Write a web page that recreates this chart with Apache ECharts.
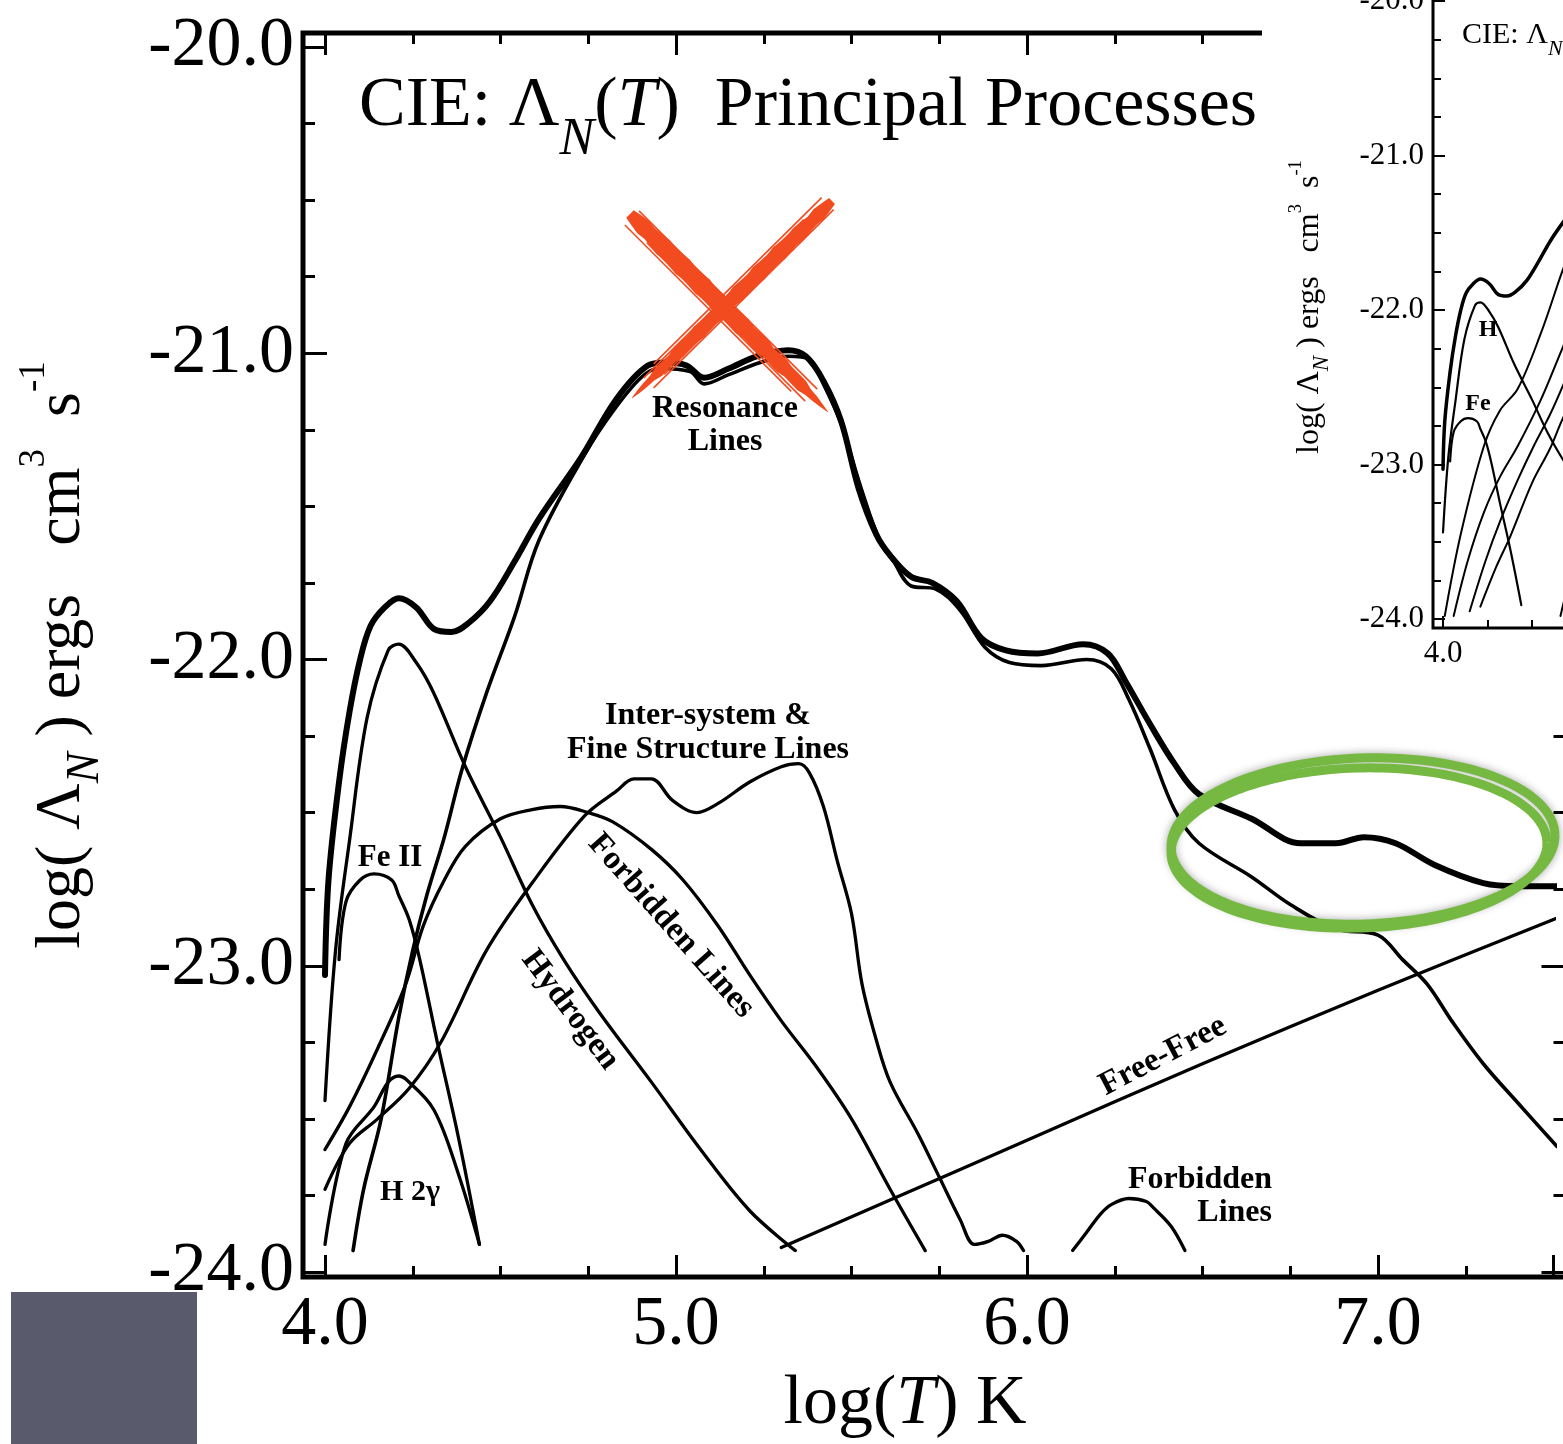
<!DOCTYPE html>
<html><head><meta charset="utf-8">
<script src="https://cdn.jsdelivr.net/npm/echarts@6/dist/echarts.min.js"></script>
<style>html,body{margin:0;padding:0;background:#fff}#c{width:1563px;height:1444px}</style>
</head><body><div id="c"></div><script>
// ---- data: [log T, log Lambda_N] ----
const totalCurve = [[4.00,-23.03],[4.01,-22.72],[4.04,-22.40],[4.07,-22.17],[4.10,-22.00],[4.13,-21.89],[4.17,-21.83],[4.21,-21.80],[4.26,-21.83],[4.31,-21.90],[4.36,-21.91],[4.41,-21.88],[4.47,-21.81],[4.54,-21.68],[4.61,-21.54],[4.73,-21.34],[4.83,-21.15],[4.92,-21.04],[4.97,-21.03],[5.03,-21.04],[5.08,-21.08],[5.15,-21.05],[5.23,-21.01],[5.32,-20.99],[5.37,-21.01],[5.42,-21.09],[5.47,-21.22],[5.52,-21.44],[5.57,-21.59],[5.61,-21.66],[5.67,-21.73],[5.73,-21.75],[5.80,-21.81],[5.87,-21.93],[5.94,-21.97],[6.03,-21.98],[6.16,-21.95],[6.23,-21.98],[6.28,-22.07],[6.35,-22.21],[6.42,-22.34],[6.49,-22.44],[6.64,-22.52],[6.78,-22.60],[6.88,-22.60],[6.96,-22.58],[7.05,-22.60],[7.16,-22.67],[7.30,-22.73],[7.40,-22.74],[7.51,-22.74]];
const resonanceLines = [[4.08,-23.93],[4.11,-23.73],[4.16,-23.50],[4.21,-23.17],[4.25,-22.95],[4.29,-22.77],[4.34,-22.58],[4.39,-22.36],[4.46,-22.11],[4.54,-21.86],[4.61,-21.61],[4.74,-21.33],[4.82,-21.19],[4.90,-21.08],[4.95,-21.05],[5.04,-21.06],[5.08,-21.10],[5.15,-21.07],[5.24,-21.03],[5.32,-21.01],[5.38,-21.02],[5.42,-21.10],[5.47,-21.23],[5.53,-21.45],[5.58,-21.61],[5.62,-21.68],[5.67,-21.76],[5.74,-21.77],[5.81,-21.84],[5.88,-21.96],[5.95,-22.01],[6.04,-22.02],[6.17,-22.00],[6.24,-22.03],[6.29,-22.13],[6.35,-22.29],[6.42,-22.49],[6.49,-22.60],[6.64,-22.71],[6.75,-22.80],[6.88,-22.88],[7.00,-22.90],[7.07,-22.98],[7.14,-23.06],[7.21,-23.18],[7.30,-23.32],[7.40,-23.45],[7.51,-23.59]];
const hydrogen = [[4.00,-23.44],[4.03,-22.95],[4.07,-22.59],[4.12,-22.19],[4.18,-21.97],[4.21,-21.95],[4.26,-22.01],[4.31,-22.11],[4.40,-22.35],[4.50,-22.58],[4.59,-22.80],[4.68,-22.98],[4.78,-23.15],[4.93,-23.38],[5.07,-23.60],[5.21,-23.80],[5.34,-23.93]];
const ironII = [[4.04,-22.98],[4.06,-22.79],[4.10,-22.72],[4.14,-22.70],[4.19,-22.72],[4.21,-22.77],[4.24,-22.85],[4.27,-22.98],[4.32,-23.25],[4.38,-23.56],[4.44,-23.91]];
const hTwoPhoton = [[4.00,-23.91],[4.06,-23.58],[4.14,-23.46],[4.18,-23.38],[4.21,-23.36],[4.23,-23.37],[4.31,-23.47],[4.38,-23.68],[4.44,-23.91]];
const interSystem = [[4.00,-23.73],[4.07,-23.58],[4.15,-23.50],[4.24,-23.40],[4.33,-23.25],[4.46,-22.95],[4.59,-22.73],[4.74,-22.51],[4.83,-22.43],[4.88,-22.39],[4.93,-22.39],[4.99,-22.46],[5.06,-22.50],[5.12,-22.47],[5.21,-22.40],[5.30,-22.35],[5.35,-22.34],[5.38,-22.37],[5.42,-22.48],[5.46,-22.66],[5.50,-22.83],[5.53,-23.06],[5.57,-23.24],[5.61,-23.38],[5.69,-23.55],[5.75,-23.69],[5.81,-23.83],[5.85,-23.91],[5.89,-23.90],[5.93,-23.88],[5.97,-23.90],[5.99,-23.93]];
const forbiddenLines = [[4.00,-23.60],[4.07,-23.46],[4.15,-23.27],[4.23,-23.06],[4.28,-22.87],[4.34,-22.72],[4.40,-22.61],[4.50,-22.52],[4.59,-22.49],[4.67,-22.48],[4.75,-22.50],[4.82,-22.53],[4.93,-22.62],[5.02,-22.72],[5.12,-22.87],[5.21,-23.03],[5.30,-23.18],[5.40,-23.33],[5.50,-23.50],[5.61,-23.73],[5.71,-23.93]];
const freeFree = [[5.30,-23.92],[5.60,-23.77],[6.00,-23.57],[6.50,-23.32],[7.00,-23.08],[7.52,-22.84]];
const forbiddenHighT = [[6.13,-23.93],[6.17,-23.87],[6.21,-23.81],[6.24,-23.78],[6.29,-23.76],[6.34,-23.77],[6.36,-23.79],[6.41,-23.85],[6.45,-23.93]];
// inset panel: element contributions
const insetElemA = [[4.01,-23.98],[4.10,-23.45],[4.23,-22.88],[4.32,-22.65],[4.42,-22.51],[4.55,-22.15],[4.67,-21.75],[4.80,-21.35]];
const insetElemB = [[4.06,-23.98],[4.14,-23.62],[4.23,-23.31],[4.32,-23.08],[4.42,-22.88],[4.55,-22.58],[4.67,-22.25],[4.80,-21.90]];
const insetElemC = [[4.15,-23.95],[4.24,-23.62],[4.32,-23.37],[4.42,-23.10],[4.51,-22.88],[4.60,-22.68],[4.67,-22.50],[4.80,-22.15]];
const insetElemD = [[4.21,-23.92],[4.30,-23.66],[4.38,-23.46],[4.50,-23.12],[4.60,-22.90],[4.67,-22.71],[4.80,-22.40]];
const insetElemE = [[4.66,-23.98],[4.71,-23.75],[4.80,-23.40]];
// axis ranges
const mainX = [4, 7.5], mainY = [-24, -20];
const insetX = [4, 5.75], insetY = [-24, -20];

const SERIF = '"Liberation Serif","Times New Roman",serif';
const chart = echarts.init(document.getElementById('c'), null, {renderer:'canvas'});

function ln(name, data, width, inset) {
  return {name, type:'line', data, xAxisIndex: inset?2:0, yAxisIndex: inset?2:0,
    symbol:'none', showSymbol:false, smooth:0.35, silent:true,
    lineStyle:{color:'#000', width, cap:'round', join:'round'}, z: inset?22:2, animation:false};
}
const tickStyle = w => ({lineStyle:{color:'#000', width:w}});
function valAxis(o) {
  return Object.assign({type:'value', splitLine:{show:false}, axisLine:{show:false, onZero:false}}, o);
}

// ---- decorations (annotation drawing, pixel space) ----
const RED='#F24B20', GREEN='#76B942';
function brush(p0, p1, maxW) {
  const n = 30, left = [], right = [];
  const dx = p1[0]-p0[0], dy = p1[1]-p0[1], L = Math.hypot(dx,dy);
  const nx = -dy/L, ny = dx/L;
  for (let i=0;i<=n;i++){
    const t=i/n;
    const w = 2 + maxW*Math.pow(Math.sin(Math.PI*Math.min(1,0.04+t*1.02)),0.3)*(1-0.3*t) + ((i%3)-1)*1.6;
    const cx=p0[0]+dx*t, cy=p0[1]+dy*t;
    left.push([cx+nx*w/2, cy+ny*w/2]); right.unshift([cx-nx*w/2, cy-ny*w/2]);
  }
  return left.concat(right);
}
function bristles(p0, p1, offs) {
  const dx = p1[0]-p0[0], dy = p1[1]-p0[1], L = Math.hypot(dx,dy);
  const nx = -dy/L, ny = dx/L;
  return offs.map(function(o, k){
    const a = 0.02 + 0.05*(k%3), b = 0.92 - 0.06*(k%2);
    return {type:'line', shape:{x1:p0[0]+dx*a+nx*o, y1:p0[1]+dy*a+ny*o, x2:p0[0]+dx*b+nx*o, y2:p0[1]+dy*b+ny*o},
      style:{stroke:RED, lineWidth:1.6}, z:50, silent:true};
  });
}
function ellipsePts(cx, cy, rx, ry, phi) {
  const pts=[];
  for (let i=0;i<=180;i++){ const t=i/180*2*Math.PI, u=rx*Math.cos(t), v=ry*Math.sin(t);
    pts.push([cx+u*Math.cos(phi)+v*Math.sin(phi), cy-u*Math.sin(phi)+v*Math.cos(phi)]); }
  return pts;
}
const redX = [
  {type:'polygon', shape:{points:brush([630,214],[828,412],19)}, style:{fill:RED}, z:50, silent:true},
  {type:'polygon', shape:{points:brush([832,201],[632,398],15)}, style:{fill:RED}, z:50, silent:true}
].concat(bristles([628,214],[826,412],[-10,-7,7,10]), bristles([832,200],[632,398],[-8,-6,6,9]));
const greenRing = [
  {type:'polyline', shape:{points:ellipsePts(1363,841,192,83,0.035)}, style:{stroke:GREEN, lineWidth:9, fill:null, shadowBlur:8, shadowColor:'rgba(0,0,0,0.35)'}, z:50, silent:true},
  {type:'polyline', shape:{points:ellipsePts(1359,848,188,80,0.03)}, style:{stroke:GREEN, lineWidth:9, fill:null}, z:51, silent:true}
];

function txt(x,y,text,size,opt){
  return Object.assign({type:'text', x, y, silent:true, z:40, style:Object.assign({text, fontSize:size, fontFamily:SERIF, fill:'#000', align:'center', verticalAlign:'middle'}, opt||{})});
}
function yTitle(x,y,size){
  return {type:'text', x, y, rotation:Math.PI/2, silent:true, z:40, style:{
    text:'{a|log( Λ}{sub|N}{a| ) ergs   cm}{sup|3}{a|  s}{sup|-1}', align:'center', verticalAlign:'middle',
    fontFamily:SERIF, fontSize:size, fill:'#000',
    rich:{a:{fontSize:size, fontFamily:SERIF, lineHeight:size*1.45, fill:'#000'},
          sub:{fontSize:size*0.72, fontFamily:SERIF, fontStyle:'italic', lineHeight:size*0.72, verticalAlign:'bottom', fill:'#000'},
          sup:{fontSize:size*0.58, fontFamily:SERIF, lineHeight:size*0.58, verticalAlign:'top', fill:'#000'}}}};
}

const graphics = [
  {type:'rect', shape:{x:303,y:33,width:1262.5,height:1244}, style:{fill:null, stroke:'#000', lineWidth:5}, z:1, silent:true},
  // inset background + frame
  {type:'rect', shape:{x:1262,y:0,width:310,height:703}, style:{fill:'#fff'}, z:10, silent:true},
  {type:'polyline', shape:{points:[[1433,0],[1433,628],[1570,628]]}, style:{stroke:'#000', lineWidth:3, fill:null}, z:21, silent:true},
  // main title
  {type:'text', x:359, y:107, silent:true, z:40, style:{text:'{a|CIE: Λ}{sub|N}{a|(}{it|T}{a|)  Principal Processes}', align:'left', verticalAlign:'middle', fontFamily:SERIF, fontSize:70, fill:'#000',
    rich:{a:{fontSize:70, fontFamily:SERIF, lineHeight:118, fill:'#000'}, it:{fontSize:70, fontFamily:SERIF, fontStyle:'italic', lineHeight:118, fill:'#000'},
          sub:{fontSize:52, fontFamily:SERIF, fontStyle:'italic', lineHeight:52, verticalAlign:'bottom', fill:'#000'}}}},
  yTitle(62,655,64),
  {type:'text', x:905, y:1405, silent:true, z:40, style:{text:'{a|log(}{it|T}{a|) K}', align:'center', verticalAlign:'middle', fontFamily:SERIF, fontSize:70, fill:'#000',
    rich:{a:{fontSize:70, fontFamily:SERIF, fill:'#000'}, it:{fontSize:70, fontFamily:SERIF, fontStyle:'italic', fill:'#000'}}}},
  // curve labels
  txt(725,425,'Resonance\nLines',32,{fontWeight:'bold', lineHeight:33}),
  txt(708,733,'Inter-system &\nFine Structure Lines',32,{fontWeight:'bold', lineHeight:34}),
  txt(390,858,'Fe II',31,{fontWeight:'bold'}),
  txt(410,1192,'H 2γ',30,{fontWeight:'bold'}),
  Object.assign(txt(570,1010,'Hydrogen',33,{fontWeight:'bold'}),{rotation:-0.925}),
  Object.assign(txt(671,926,'Forbidden Lines',33,{fontWeight:'bold'}),{rotation:-0.847}),
  Object.assign(txt(1163,1056,'Free-Free',33,{fontWeight:'bold'}),{rotation:0.48}),
  txt(1272,1180,'Forbidden',32,{fontWeight:'bold', align:'right'}),
  txt(1272,1213,'Lines',32,{fontWeight:'bold', align:'right'}),
  // inset texts
  {type:'text', x:1462, y:35, silent:true, z:40, style:{text:'{a|CIE: Λ}{sub|N}{a|(}{it|T}{a|)  Principal Elements}', align:'left', verticalAlign:'middle', fontFamily:SERIF, fontSize:30, fill:'#000',
    rich:{a:{fontSize:30, fontFamily:SERIF, lineHeight:50, fill:'#000'}, it:{fontSize:30, fontFamily:SERIF, fontStyle:'italic', lineHeight:50, fill:'#000'},
          sub:{fontSize:22, fontFamily:SERIF, fontStyle:'italic', lineHeight:22, verticalAlign:'bottom', fill:'#000'}}}},
  yTitle(1310,307,32),
  txt(1488,330,'H',24,{fontWeight:'bold'}),
  txt(1478,404,'Fe',24,{fontWeight:'bold'}),
  // gray box
  {type:'rect', shape:{x:11,y:1292,width:186,height:160}, style:{fill:'#595A6C'}, z:60, silent:true}
].concat(redX, greenRing);

const option = {
  animation:false,
  backgroundColor:'#fff',
  grid:[
    {left:325, top:47, width:1228.5, height:1225, containLabel:false, outerBoundsMode:'none'},
    {left:1443, top:1, width:311.5, height:618, containLabel:false, outerBoundsMode:'none'}
  ],
  xAxis:[
    valAxis({gridIndex:0, min:mainX[0], max:mainX[1], interval:1, position:'bottom', offset:5,
      axisTick:Object.assign({inside:true, length:22}, tickStyle(3)),
      minorTick:Object.assign({show:true, splitNumber:4, length:11}, tickStyle(3)),
      axisLabel:{fontSize:70, fontFamily:SERIF, color:'#000', margin:14, showMaxLabel:false, formatter:v=>v.toFixed(1)}}),
    valAxis({gridIndex:0, min:mainX[0], max:mainX[1], interval:1, position:'top', offset:14,
      axisTick:Object.assign({inside:true, length:22}, tickStyle(3)),
      minorTick:Object.assign({show:true, splitNumber:4, length:11}, tickStyle(3)),
      axisLabel:{show:false}}),
    valAxis({gridIndex:1, min:insetX[0], max:insetX[1], interval:1, position:'bottom', offset:9, z:21,
      axisTick:Object.assign({inside:true, length:12}, tickStyle(2)),
      minorTick:Object.assign({show:true, splitNumber:4, length:8}, tickStyle(2)),
      axisLabel:{fontSize:31, fontFamily:SERIF, color:'#000', margin:10, showMaxLabel:false, formatter:v=>v.toFixed(1)}})
  ],
  yAxis:[
    valAxis({gridIndex:0, min:mainY[0], max:mainY[1], interval:1, position:'left', offset:22,
      axisTick:Object.assign({inside:true, length:24}, tickStyle(3)),
      minorTick:Object.assign({show:true, splitNumber:4, length:12}, tickStyle(3)),
      axisLabel:{fontSize:70, fontFamily:SERIF, color:'#000', margin:9, formatter:v=>v.toFixed(1)}}),
    valAxis({gridIndex:0, min:mainY[0], max:mainY[1], interval:1, position:'right', offset:12,
      axisTick:Object.assign({inside:true, length:24}, tickStyle(3)),
      minorTick:Object.assign({show:true, splitNumber:4, length:12}, tickStyle(3)),
      axisLabel:{show:false}}),
    valAxis({gridIndex:1, min:insetY[0], max:insetY[1], interval:1, position:'left', offset:10, z:21,
      axisTick:Object.assign({inside:true, length:12}, tickStyle(2)),
      minorTick:Object.assign({show:true, splitNumber:4, length:8}, tickStyle(2)),
      axisLabel:{fontSize:31, fontFamily:SERIF, color:'#000', margin:9, formatter:v=>v.toFixed(1)}})
  ],
  series:[
    ln('Total', totalCurve, 6),
    ln('Resonance Lines', resonanceLines, 3.6),
    ln('Hydrogen', hydrogen, 3.3),
    ln('Fe II', ironII, 3.3),
    ln('H 2γ', hTwoPhoton, 3.3),
    ln('Inter-system & Fine Structure Lines', interSystem, 3.3),
    ln('Forbidden Lines', forbiddenLines, 3.3),
    ln('Free-Free', freeFree, 3.3),
    ln('Forbidden Lines (hot)', forbiddenHighT, 3.3),
    ln('Total (inset)', totalCurve, 3.5, true),
    ln('H (inset)', hydrogen, 2.2, true),
    ln('Fe (inset)', ironII, 2.2, true),
    ln('A (inset)', insetElemA, 2, true),
    ln('B (inset)', insetElemB, 2, true),
    ln('C (inset)', insetElemC, 2, true),
    ln('D (inset)', insetElemD, 2, true),
    ln('E (inset)', insetElemE, 2, true)
  ],
  graphic:{elements:graphics}
};
chart.setOption(option);
</script></body></html>
